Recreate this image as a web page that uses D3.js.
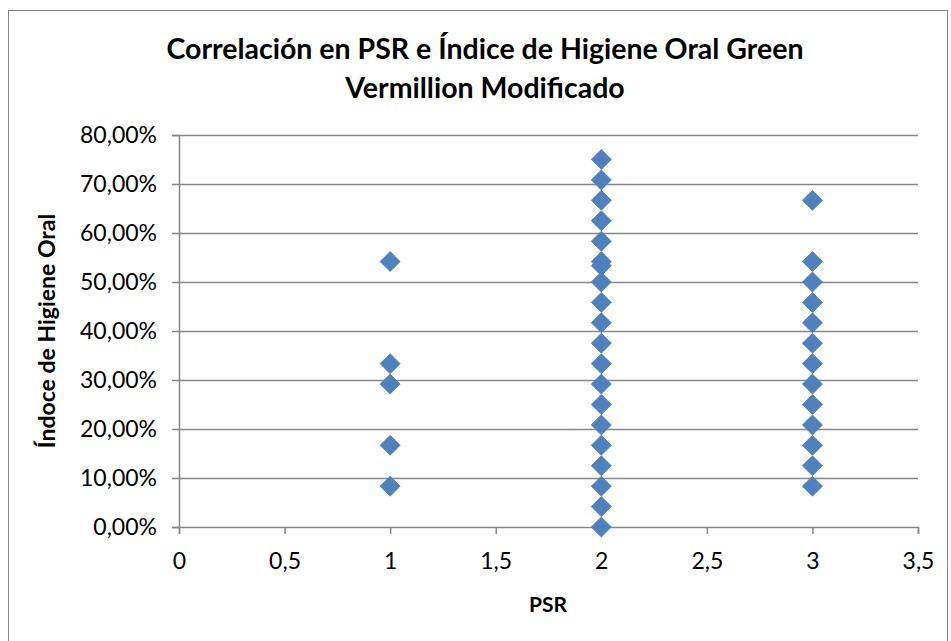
<!DOCTYPE html>
<html>
<head>
<meta charset="utf-8">
<script src="https://cdn.jsdelivr.net/npm/d3@7"></script>
<style>
  body { margin: 0; background: #fff; }
  text { font-family: Lato, "Open Sans", sans-serif; }
</style>
</head>
<body>
<script>
const width = 951;
const height = 641;

// PSR value and index (%) for each patient
const psr1 = [54.17, 33.33, 29.17, 16.67, 8.33];
const psr2 = [75, 70.83, 66.67, 62.5, 58.33, 54.17, 53.33, 50, 45.83, 41.67, 37.5, 33.33,
              29.17, 25, 20.83, 16.67, 12.5, 8.33, 4.17, 0];
const psr3 = [66.67, 54.17, 50, 45.83, 41.67, 37.5, 33.33, 29.17, 25, 20.83, 16.67, 12.5, 8.33];

const xTicks = [0, 0.5, 1, 1.5, 2, 2.5, 3, 3.5];
const yTicks = [0, 10, 20, 30, 40, 50, 60, 70, 80];

const points = []
    .concat(psr1.map(v => ({x: 1, y: v})))
    .concat(psr2.map(v => ({x: 2, y: v})))
    .concat(psr3.map(v => ({x: 3, y: v})));

const margin = {left: 179, right: 33, top: 135, bottom: 114};

const svg = d3.select('body')
    .append('svg')
    .attr('width', width)
    .attr('height', height);

svg.append('rect')
    .attr('x', 8.5).attr('y', 10.5)
    .attr('width', 939).attr('height', 640)
    .attr('fill', '#fff')
    .attr('stroke', '#868686')
    .attr('stroke-width', 1);

const x = d3.scaleLinear().domain([0, 3.5]).range([margin.left, width - margin.right]);
const y = d3.scaleLinear().domain([0, 80]).range([height - margin.bottom, margin.top]);

// gridlines
svg.append('g')
    .selectAll('line')
    .data(yTicks.filter(d => d > 0))
    .join('line')
    .attr('x1', margin.left).attr('x2', width - margin.right)
    .attr('y1', d => Math.round(y(d)) + 0.5).attr('y2', d => Math.round(y(d)) + 0.5)
    .attr('stroke', '#868686')
    .attr('stroke-width', 1.5);

const fmt = d => d3.format('.2f')(d).replace('.', ',') + '%';

const yAxis = svg.append('g')
    .attr('transform', `translate(${margin.left},0)`)
    .call(d3.axisLeft(y).tickValues(yTicks).tickFormat(fmt).tickSize(7).tickPadding(15));

const xAxis = svg.append('g')
    .attr('transform', `translate(0,${height - margin.bottom})`)
    .call(d3.axisBottom(x).tickValues(xTicks).tickFormat(d => String(d).replace('.', ',')).tickSize(7).tickPadding(19));

[yAxis, xAxis].forEach(a => {
    a.selectAll('path, line').attr('stroke', '#868686').attr('stroke-width', 1.5);
    a.selectAll('text')
        .attr('font-family', 'Lato, sans-serif')
        .attr('font-size', 23)
        .attr('fill', '#000');
});

// markers
svg.append('g')
    .selectAll('path')
    .data(points)
    .join('path')
    .attr('d', d3.symbol(d3.symbolSquare, 200))
    .attr('transform', d => `translate(${x(d.x)},${y(d.y)}) rotate(45)`)
    .attr('fill', '#4F81BD')
    .attr('stroke', '#4A7EBB')
    .attr('stroke-width', 0.8);

// titles
svg.append('text')
    .attr('x', 485).attr('y', 59)
    .attr('text-anchor', 'middle')
    .attr('font-size', 28.5).attr('font-weight', 'bold')
    .text('Correlación en PSR e Índice de Higiene Oral Green');

svg.append('text')
    .attr('x', 485).attr('y', 98)
    .attr('text-anchor', 'middle')
    .attr('font-size', 28.5).attr('font-weight', 'bold')
    .text('Vermillion Modificado');

svg.append('text')
    .attr('x', 548).attr('y', 612)
    .attr('text-anchor', 'middle')
    .attr('font-size', 21).attr('font-weight', 'bold')
    .text('PSR');

svg.append('text')
    .attr('transform', `translate(55,331) rotate(-90)`)
    .attr('text-anchor', 'middle')
    .attr('font-size', 23).attr('font-weight', 'bold')
    .text('Índoce de Higiene  Oral');
</script>
</body>
</html>
